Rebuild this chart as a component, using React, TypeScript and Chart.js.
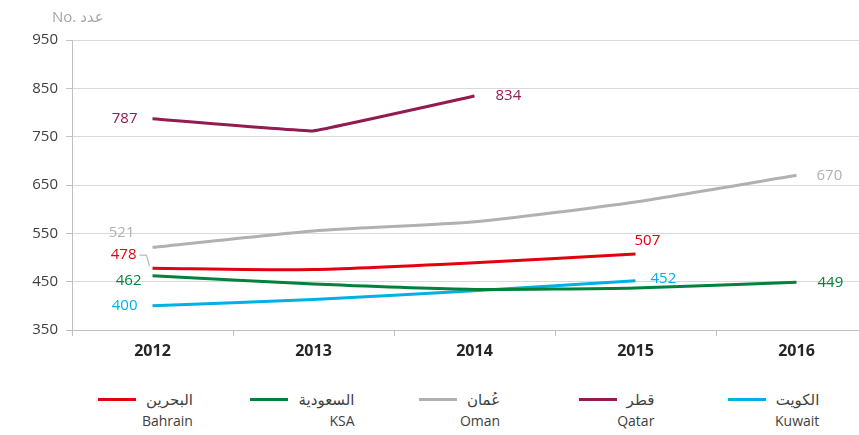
import React, { useEffect, useRef } from "react";
import { Chart, registerables } from "chart.js";

Chart.register(...registerables);

const years = ["2012", "2013", "2014", "2015", "2016"];
const bahrain = [478, 475, 489, 507, null];
const ksa = [462, 445, 434, 437, 449];
const oman = [521, 555, 574, 615, 670];
const qatar = [787, 762, 834, null, null];
const kuwait = [400, 413, 431, 452, null];

const namesAr = ["البحرين", "السعودية", "عُمان", "قطر", "الكويت"];
const namesEn = ["Bahrain", "KSA", "Oman", "Qatar", "Kuwait"];
const colors = ["#e5000d", "#00823a", "#b1b1b3", "#921b4f", "#00b0e6"];
const seriesData = [bahrain, ksa, oman, qatar, kuwait];

const yTicks = [350, 450, 550, 650, 750, 850, 950];
const axisTitle = "No. عدد";

// label placement (index into data, offsets, alignment)
const labelCfg: { index: number; dx: number; dy: number; align: CanvasTextAlign }[][] = [
  [
    { index: 0, dx: -16, dy: -13, align: "right" },
    { index: 3, dx: -1, dy: -13, align: "left" },
  ],
  [
    { index: 0, dx: -11, dy: 5, align: "right" },
    { index: 4, dx: 21, dy: 1, align: "left" },
  ],
  [
    { index: 0, dx: -18, dy: -15, align: "right" },
    { index: 4, dx: 20, dy: 0, align: "left" },
  ],
  [
    { index: 0, dx: -15, dy: 0, align: "right" },
    { index: 2, dx: 21, dy: 0, align: "left" },
  ],
  [
    { index: 0, dx: -15, dy: 0, align: "right" },
    { index: 3, dx: 15, dy: -2, align: "left" },
  ],
];

const FONT = "'Open Sans', 'DejaVu Sans', sans-serif";

const labelPlugin = {
  id: "valueLabels",
  afterDatasetsDraw(chart: any) {
    const ctx = chart.ctx;
    ctx.save();
    ctx.font = `15px ${FONT}`;
    ctx.textBaseline = "middle";
    chart.data.datasets.forEach((ds: any, i: number) => {
      const meta = chart.getDatasetMeta(i);
      labelCfg[i].forEach((c) => {
        const pt = meta.data[c.index];
        if (!pt) return;
        ctx.fillStyle = colors[i];
        ctx.textAlign = c.align;
        const tx = pt.x + c.dx;
        const ty = pt.y + c.dy;
        ctx.fillText(String(ds.data[c.index]), tx, ty);
        if (i === 0 && c.index === 0) {
          // leader line from label to point
          ctx.strokeStyle = "#a6a6a6";
          ctx.lineWidth = 1;
          ctx.beginPath();
          ctx.moveTo(tx + 3, ty);
          ctx.lineTo(pt.x - 6, ty);
          ctx.lineTo(pt.x - 3, pt.y - 2);
          ctx.stroke();
        }
      });
    });
    // axis title
    ctx.fillStyle = "#a6a6a6";
    ctx.textAlign = "left";
    ctx.font = `15px ${FONT}`;
    ctx.fillText(axisTitle, 52, 18);
    ctx.restore();
  },
};

export default function App() {
  const ref = useRef<HTMLCanvasElement>(null);

  useEffect(() => {
    if (!ref.current) return;
    const chart = new Chart(ref.current, {
      type: "line",
      data: {
        labels: years,
        datasets: seriesData.map((d, i) => ({
          label: namesEn[i],
          data: d,
          borderColor: colors[i],
          backgroundColor: colors[i],
          borderWidth: 3,
          pointRadius: 0,
          tension: i === 3 ? 0.05 : 0.2,
          spanGaps: false,
        })),
      },
      options: {
        animation: false,
        responsive: false,
        devicePixelRatio: 1,
        layout: { padding: { left: 0, right: 3, top: 40, bottom: 6 } },
        plugins: {
          legend: { display: false },
          tooltip: { enabled: false },
        },
        scales: {
          x: {
            offset: true,
            grid: {
              offset: true,
              drawOnChartArea: false,
              drawTicks: true,
              tickLength: 6,
              tickColor: "#bfbfbf",
            },
            border: { color: "#bfbfbf", width: 1 },
            ticks: {
              color: "#262626",
              font: { family: FONT, size: 16, weight: "bold" },
              padding: 6,
            },
            afterFit(scale: any) {
              scale.height = 35;
            },
          },
          y: {
            min: 350,
            max: 950,
            afterBuildTicks(scale: any) {
              scale.ticks = yTicks.map((v) => ({ value: v }));
            },
            grid: {
              color: "#d9d9d9",
              tickColor: "#bfbfbf",
              tickLength: 6,
              lineWidth: 1,
            },
            border: { color: "#bfbfbf", width: 1 },
            ticks: {
              color: "#404040",
              font: { family: FONT, size: 15 },
              padding: 8,
            },
            afterFit(scale: any) {
              scale.width = 72;
            },
          },
        },
      },
      plugins: [labelPlugin],
    });
    return () => chart.destroy();
  }, []);

  return (
    <div
      style={{
        position: "fixed",
        left: 0,
        top: 0,
        width: 859,
        height: 435,
        overflow: "hidden",
        background: "#fff",
        fontFamily: FONT,
      }}
    >
      <canvas ref={ref} width={880} height={371} style={{ display: "block" }} />
      <div
        style={{
          position: "absolute",
          top: 388,
          left: 67,
          display: "flex",
          fontSize: 14,
          color: "#404040",
        }}
      >
        {namesEn.map((en, i) => (
          <div key={en} style={{ width: 157, display: "flex", justifyContent: "center" }}>
            <div style={{ display: "inline-block", textAlign: "right" }}>
              <div style={{ display: "flex", alignItems: "center", height: 22 }}>
                <span
                  style={{
                    display: "inline-block",
                    width: 38,
                    height: 3,
                    background: colors[i],
                    marginRight: 10,
                  }}
                />
                <span dir="rtl" style={{ fontSize: 15 }}>{namesAr[i]}</span>
              </div>
              <div style={{ lineHeight: "22px" }}>{en}</div>
            </div>
          </div>
        ))}
      </div>
    </div>
  );
}
